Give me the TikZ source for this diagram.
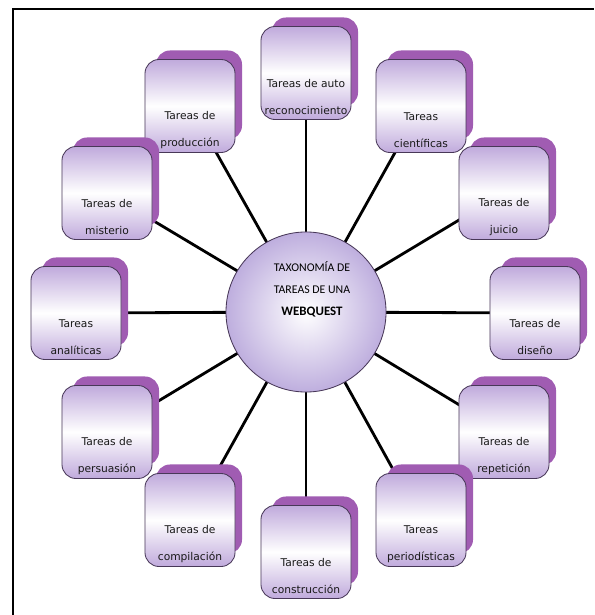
\documentclass[tikz,border=0pt]{standalone}
\usepackage{fontspec}
\setmainfont{DejaVu Sans}
\newfontfamily\titulofont{Carlito}
\usepackage{tikz}
\usetikzlibrary{backgrounds}
\definecolor{lila}{RGB}{192,170,220}
\definecolor{lilafondo}{RGB}{190,174,222}
\definecolor{sombralila}{RGB}{160,92,178}
\definecolor{bordelila}{RGB}{72,56,88}
\tikzstyle{caja} = [rectangle, rounded corners=3.5mm,
minimum width=2.25cm,
minimum height=2.325cm,
inner sep=0pt,
draw=bordelila, line width=0.6pt,
top color=lila, bottom color=lila, middle color=white]
\tikzstyle{sombra} = [rectangle, rounded corners=3.5mm,
minimum width=2.15cm,
minimum height=2.225cm,
inner sep=0pt,
fill=sombralila]
\tikzstyle{texto} = [align=center, inner sep=0pt,
text=black!90,
font=\fontsize{7.6}{19.2}\selectfont]
\tikzstyle{centro} = [circle, minimum size=4cm, inner sep=0pt,
draw=bordelila, line width=0.6pt,
inner color=white, outer color=lilafondo]
\tikzstyle{conector} = [line width=2pt, black]

\begin{document}
\begin{tikzpicture}[x=0.025cm, y=-0.025cm]
	\useasboundingbox (0,0) rectangle (594,615);
	% marco
	\draw[line width=2pt] (13,615) -- (13,9) -- (594,9);
	% circulo central
	\node (tax) [centro] at (306,312) {};
	\node (titulo) [align=center, inner sep=0pt, font=\titulofont\fontsize{8.4}{15.6}\selectfont] at (312,289)
		{TAXONOMÍA DE\\TAREAS DE UNA\\\textbf{\fontsize{9.2}{15.6}\selectfont WEBQUEST}};
	% tareas
	\foreach \nombre/\pos/\lineaA/\lineaB in {
		aut/{306,73}/Tareas de auto/reconocimiento,
		pro/{190,106}/Tareas de/producción,
		cie/{421,106}/Tareas/científicas,
		mis/{107,193}/Tareas de/misterio,
		jui/{504,193}/Tareas de/juicio,
		ana/{76,313}/Tareas/analíticas,
		dis/{535,313}/Tareas de/diseño,
		per/{107,432}/Tareas de/persuasión,
		rep/{504,432}/Tareas de/repetición,
		com/{190,520}/Tareas de/compilación,
		prd/{421,520}/Tareas/periodísticas,
		con/{306,552}/Tareas de/construcción}
	{
		\node (\nombre-s) [sombra, xshift=2.25mm, yshift=2.75mm] at (\pos) {};
		\node (\nombre) [caja] at (\pos) {};
		\node (\nombre-t) [texto, yshift=-6mm] at (\nombre.center) {\lineaA\\\lineaB};
	}
	% conectores
	\begin{pgfonlayer}{background}
		\foreach \nombre in {aut,pro,cie,mis,jui,ana,dis,per,rep,com,prd,con}
			\draw [conector] (tax.center) -- (\nombre.center);
	\end{pgfonlayer}
\end{tikzpicture}
\end{document}
